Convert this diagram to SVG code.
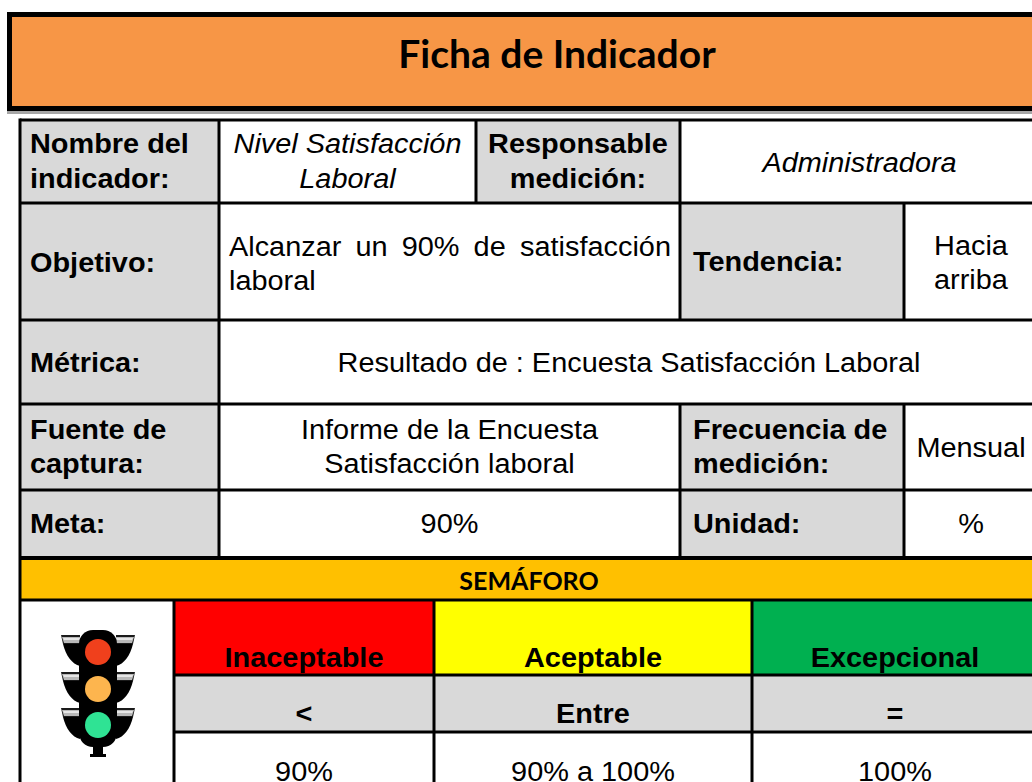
<svg xmlns="http://www.w3.org/2000/svg" width="1032" height="782" viewBox="0 0 1032 782">
<style>
.t{font-family:"Liberation Sans",Arial,sans-serif;font-size:27px;fill:#000}
.b{font-weight:bold}
.i{font-style:italic}
.c{text-anchor:middle}
.e{text-anchor:end}
.sl{transform-box:fill-box;transform-origin:0 50%;transform:scaleX(1.07)}
.sc{transform-box:fill-box;transform-origin:50% 50%;transform:scaleX(1.07)}
.se{transform-box:fill-box;transform-origin:100% 50%;transform:scaleX(1.07)}
.cal{font-family:Lato,Carlito,"Liberation Sans",sans-serif;font-weight:bold;fill:#000;text-anchor:middle}
.ln{stroke:#000;stroke-width:3;fill:none}
.gray{fill:#D9D9D9}
</style>
<defs>
<g id="visor">
<polygon points="61,-17 80,-17 80,-8 63,-8" fill="#1A1A1A"/>
<polygon points="62,-15 80,-15 80,-9 64,-9" fill="#B8B8B8"/>
<polygon points="63,-14 80,-14 80,-12 64,-12" fill="#E6E6E6"/>
<path d="M63,-8 L80,-8 L80,14 C72,12 66,4 63,-8 Z" fill="#000"/>
</g>
</defs>
<rect width="1032" height="782" fill="#fff"/>

<g id="banner">
<rect x="7" y="111" width="1030" height="3" fill="#A6A6A6"/>
<rect x="9.5" y="14.5" width="1030" height="94" fill="#F79646" stroke="#000" stroke-width="5"/>
<text class="cal" x="557" y="68" font-size="39">Ficha de Indicador</text>
</g>

<g id="fills">
<rect class="gray" x="20" y="120" width="199" height="438"/>
<rect class="gray" x="476" y="120" width="204" height="83"/>
<rect class="gray" x="680" y="203" width="224" height="117"/>
<rect class="gray" x="680" y="404" width="224" height="154"/>
<rect x="20" y="558" width="1020" height="42" fill="#FFC000"/>
<rect x="174" y="600" width="260" height="75" fill="#FF0000"/>
<rect x="434" y="600" width="318" height="75" fill="#FFFF00"/>
<rect x="752" y="600" width="288" height="75" fill="#00B050"/>
<rect class="gray" x="174" y="675" width="866" height="57"/>
</g>

<g id="connectors">
<path class="ln" d="M20,120H1040 M20,203H1040 M20,320H1040 M20,404H1040 M20,490H1040 M20,600H1040 M174,675H1040 M174,732H1040"/>
<path d="M20,558H1040" stroke="#000" stroke-width="4"/>
<path class="ln" d="M20,118.5V782 M219,120V558 M476,120V203 M680,120V320 M680,404V558 M904,203V320 M904,404V558 M174,600V782 M434,600V782 M752,600V782"/>
</g>

<g id="row-nombre">
<text class="t b sl" x="30" y="153">Nombre del</text>
<text class="t b sl" x="30" y="188">indicador:</text>
<text class="t i c sc" x="347.5" y="153">Nivel Satisfacción</text>
<text class="t i c sc" x="347.5" y="188">Laboral</text>
<text class="t b c sc" x="578" y="153">Responsable</text>
<text class="t b c sc" x="578" y="188">medición:</text>
<text class="t i c sc" x="859.5" y="172">Administradora</text>
</g>

<g id="row-objetivo">
<text class="t b sl" x="30" y="272">Objetivo:</text>
<text class="t sl" x="229" y="256">Alcanzar</text>
<text class="t sl" x="355.5" y="256">un</text>
<text class="t sl" x="401.7" y="256">90%</text>
<text class="t sl" x="473.6" y="256">de</text>
<text class="t e se" x="671" y="256">satisfacción</text>
<text class="t sl" x="229" y="290">laboral</text>
<text class="t b sl" x="693" y="271">Tendencia:</text>
<text class="t c sc" x="971" y="255">Hacia</text>
<text class="t c sc" x="971" y="289">arriba</text>
</g>

<g id="row-metrica">
<text class="t b sl" x="30" y="372">Métrica:</text>
<text class="t c sc" x="629" y="372">Resultado de : Encuesta Satisfacción Laboral</text>
</g>

<g id="row-fuente">
<text class="t b sl" x="30" y="439">Fuente de</text>
<text class="t b sl" x="30" y="473">captura:</text>
<text class="t c sc" x="449.5" y="439">Informe de la Encuesta</text>
<text class="t c sc" x="449.5" y="473">Satisfacción laboral</text>
<text class="t b sl" x="693" y="439">Frecuencia de</text>
<text class="t b sl" x="693" y="473">medición:</text>
<text class="t c sc" x="971" y="457">Mensual</text>
</g>

<g id="row-meta">
<text class="t b sl" x="30" y="533">Meta:</text>
<text class="t c sc" x="449.5" y="533">90%</text>
<text class="t b sl" x="693" y="533">Unidad:</text>
<text class="t c sc" x="971" y="533">%</text>
</g>

<g id="semaforo">
<text class="cal" x="529" y="590" font-size="25">SEMÁFORO</text>
<text class="t b c sc" x="304" y="667">Inaceptable</text>
<text class="t b c sc" x="593" y="667">Aceptable</text>
<text class="t b c sc" x="895" y="667">Excepcional</text>
<text class="t b c sc" x="304" y="723">&lt;</text>
<text class="t b c sc" x="593" y="723">Entre</text>
<text class="t b c sc" x="895" y="723">=</text>
<text class="t c sc" x="304" y="781">90%</text>
<text class="t c sc" x="593" y="781">90% a 100%</text>
<text class="t c sc" x="895" y="781">100%</text>
</g>

<g id="traffic-light">
<use href="#visor" transform="translate(0,652)"/>
<use href="#visor" transform="translate(0,689)"/>
<use href="#visor" transform="translate(0,725)"/>
<use href="#visor" transform="translate(196,652) scale(-1,1)"/>
<use href="#visor" transform="translate(196,689) scale(-1,1)"/>
<use href="#visor" transform="translate(196,725) scale(-1,1)"/>
<rect x="79" y="630" width="38" height="117" rx="14" fill="#000"/>
<rect x="93" y="744" width="10" height="13" fill="#000"/>
<rect x="90" y="754" width="16" height="3" fill="#000"/>
<circle cx="98" cy="652" r="13" fill="#F0401C"/>
<circle cx="98" cy="689" r="13" fill="#FDB54E"/>
<circle cx="98" cy="725" r="13" fill="#2FE394"/>
</g>
</svg>
